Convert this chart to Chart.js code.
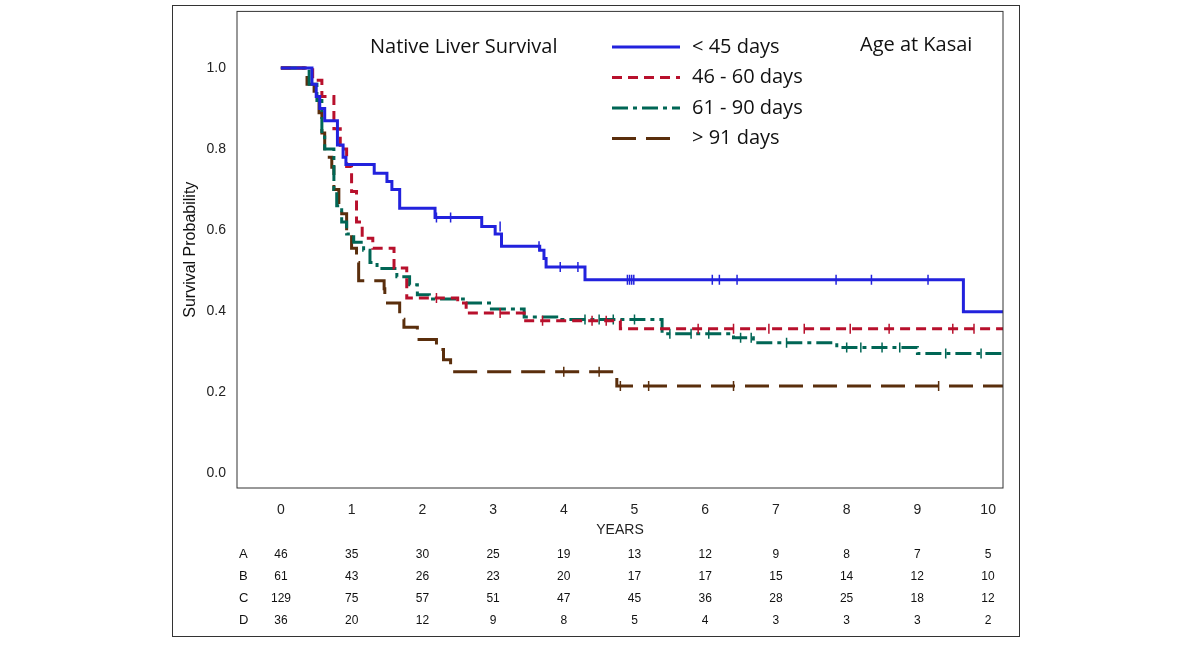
<!DOCTYPE html>
<html><head><meta charset="utf-8">
<script src="https://cdn.jsdelivr.net/npm/chart.js@4"></script>
<style>
body{margin:0;background:#fff;font-family:"Liberation Sans",Arial,sans-serif}
#box{position:absolute;left:172px;top:5px;width:846px;height:630px;border:1.5px solid #333}
#wrap{position:absolute;left:0;top:0;width:1197px;height:647px}
.rt{position:absolute;font-size:12px;color:#111;transform:translateX(-50%)}
.lab{position:absolute;font-size:13px;color:#111}
</style></head><body>
<div id="box"></div>
<div id="wrap"><canvas id="km"></canvas></div>
<div id="risk"></div>
<script>
// Curvas de Kaplan-Meier: [años, supervivencia]
const groups = [
  {label:'< 45 days', color:'#2222dd', dash:[], pts:[[0,1],[0.44,0.96],[0.5,0.93],[0.55,0.9],[0.62,0.87],[0.8,0.81],[0.88,0.78],[0.92,0.762],[1.32,0.74],[1.5,0.72],[1.57,0.70],[1.68,0.654],[2.18,0.631],[2.84,0.609],[3.03,0.59],[3.12,0.56],[3.66,0.55],[3.72,0.53],[3.75,0.509],[4.3,0.477],[9.65,0.398],[10.21,0.398]],
   cens:[[2.2,0.631],[2.4,0.631],[3.1,0.609],[3.65,0.56],[3.95,0.509],[4.2,0.509],[4.9,0.477],[4.93,0.477],[4.96,0.477],[4.99,0.477],[6.1,0.477],[6.2,0.477],[6.45,0.477],[7.85,0.477],[8.35,0.477],[9.15,0.477]]},
  {label:'46 - 60 days', color:'#b8102c', dash:[10,6], pts:[[0,1],[0.45,0.97],[0.58,0.93],[0.75,0.85],[0.84,0.80],[0.93,0.757],[1.0,0.695],[1.07,0.62],[1.15,0.58],[1.3,0.555],[1.6,0.506],[1.78,0.432],[2.5,0.42],[2.62,0.395],[3.44,0.376],[4.8,0.356],[10.21,0.356]],
   cens:[[2.2,0.432],[3.1,0.395],[3.7,0.376],[4.4,0.376],[4.6,0.376],[5.9,0.356],[6.4,0.356],[6.9,0.356],[7.4,0.356],[8.05,0.356],[8.6,0.356],[9.5,0.356],[9.8,0.356]]},
  {label:'61 - 90 days', color:'#006655', dash:[16,5,4,5], pts:[[0,1],[0.4,0.96],[0.51,0.92],[0.58,0.83],[0.62,0.80],[0.75,0.70],[0.79,0.66],[0.86,0.62],[0.93,0.59],[1.03,0.57],[1.17,0.55],[1.26,0.52],[1.36,0.505],[1.64,0.485],[1.82,0.465],[1.93,0.44],[2.1,0.43],[2.58,0.42],[2.95,0.405],[3.44,0.385],[3.9,0.379],[5.39,0.344],[6.4,0.334],[6.68,0.322],[7.86,0.31],[9.0,0.295],[10.21,0.295]],
   cens:[[4.3,0.379],[4.5,0.379],[4.7,0.379],[5.0,0.379],[5.5,0.344],[5.8,0.344],[6.05,0.344],[6.5,0.334],[6.65,0.334],[7.15,0.322],[8.0,0.31],[8.2,0.31],[8.5,0.31],[8.75,0.31],[9.4,0.295],[9.9,0.295]]},
  {label:'> 91 days', color:'#5a2e0c', dash:[24,10], pts:[[0,1],[0.37,0.96],[0.47,0.925],[0.54,0.89],[0.58,0.84],[0.62,0.78],[0.72,0.755],[0.75,0.70],[0.82,0.66],[0.86,0.64],[0.93,0.59],[1.0,0.555],[1.07,0.52],[1.1,0.475],[1.46,0.455],[1.47,0.42],[1.68,0.38],[1.74,0.36],[1.93,0.33],[2.2,0.305],[2.3,0.28],[2.4,0.25],[4.75,0.215],[10.21,0.215]],
   cens:[[4.0,0.25],[4.5,0.25],[4.8,0.215],[5.2,0.215],[6.4,0.215],[9.3,0.215]]}
];
const risk = {A:[46,35,30,25,19,13,12,9,8,7,5],B:[61,43,26,23,20,17,17,15,14,12,10],C:[129,75,57,51,47,45,36,28,25,18,12],D:[36,20,12,9,8,5,4,3,3,3,2]};

const datasets = [];
groups.forEach(g=>{
  datasets.push({label:g.label,data:g.pts.map(p=>({x:p[0],y:p[1]})),borderColor:g.color,borderDash:g.dash,borderWidth:3,stepped:'before',pointRadius:0,fill:false});
  datasets.push({label:g.label+' cens',data:g.cens.map(p=>({x:p[0],y:p[1]})),showLine:false,pointStyle:'line',rotation:90,pointRadius:5,borderColor:g.color,borderWidth:1.5});
});

const frame = {id:'frame',afterDraw(c){
  const {ctx,chartArea:a}=c;
  ctx.save();ctx.strokeStyle='#333';ctx.lineWidth=1;ctx.strokeRect(a.left,a.top,a.right-a.left,a.bottom-a.top);
  // leyenda
  ctx.fillStyle='#111';ctx.font='20px "Open Sans"';ctx.textBaseline='middle';
  ctx.fillText('Native Liver Survival',370,47);
  ctx.fillText('Age at Kasai',860,45);
  groups.forEach((g,i)=>{
    const y=47+i*30.5;
    ctx.strokeStyle=g.color;ctx.lineWidth=3;ctx.setLineDash(g.dash);
    ctx.beginPath();ctx.moveTo(612,y);ctx.lineTo(i==3?670:680,y);ctx.stroke();
    ctx.fillStyle='#111';ctx.fillText(g.label,692,y);
  });
  ctx.restore();
}};

new Chart(document.getElementById('km'),{
  type:'line',
  data:{datasets},
  plugins:[frame],
  options:{
    responsive:true,maintainAspectRatio:false,animation:false,
    layout:{padding:{left:177,right:194,top:10,bottom:104}},
    plugins:{legend:{display:false},tooltip:{enabled:false}},
    scales:{
      x:{type:'linear',min:-0.62,max:10.21,grid:{display:false},border:{display:false},
        afterFit(s){s.height=55;},
        afterBuildTicks(s){s.ticks=[0,1,2,3,4,5,6,7,8,9,10].map(v=>({value:v}));},
        ticks:{color:'#222',font:{size:14},padding:6},
        title:{display:true,text:'YEARS',color:'#222',font:{size:14},padding:{top:4}}},
      y:{min:-0.037,max:1.14,grid:{display:false},border:{display:false},
        afterFit(s){s.width=60;},
        afterBuildTicks(s){s.ticks=[0,0.2,0.4,0.6,0.8,1.0].map(v=>({value:v}));},
        ticks:{color:'#222',font:{size:14},callback:v=>v.toFixed(1)},
        title:{display:true,text:'Survival Probability',color:'#111',font:{size:16},padding:{bottom:4}}}
    }
  }
});

// tabla de pacientes en riesgo
const rdiv=document.getElementById('risk');
Object.keys(risk).forEach((k,i)=>{
  const top=547+i*22;
  rdiv.insertAdjacentHTML('beforeend',`<div class="lab" style="left:239px;top:${top-1}px">${k}</div>`);
  risk[k].forEach((n,j)=>{
    rdiv.insertAdjacentHTML('beforeend',`<div class="rt" style="left:${281+j*70.7}px;top:${top}px">${n}</div>`);
  });
});
</script></body></html>
